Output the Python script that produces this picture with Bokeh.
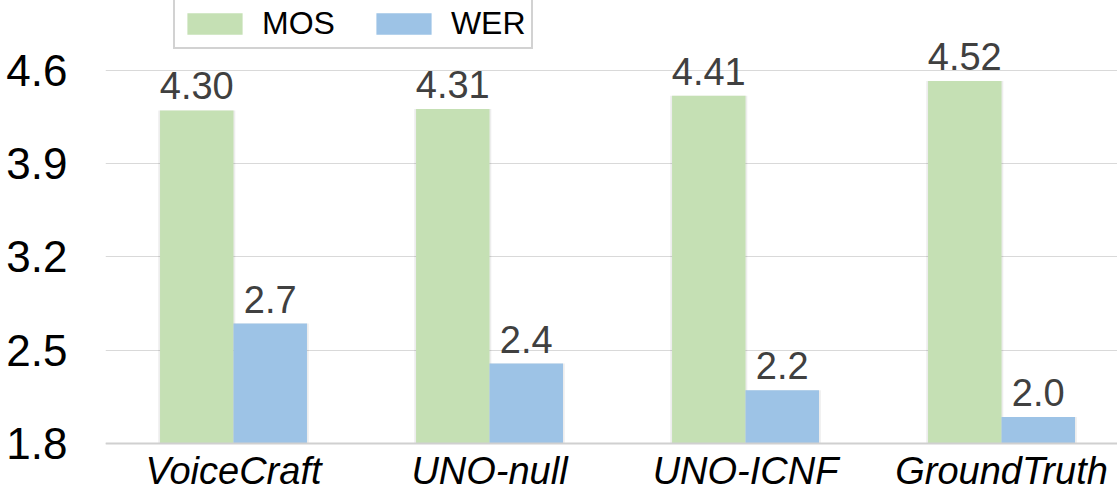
from bokeh.plotting import figure
from bokeh.models import ColumnDataSource, Range1d, FixedTicker, Legend, LegendItem, LabelSet, Span
from bokeh.core.properties import value
from bokeh.embed import file_html
from bokeh.resources import INLINE

categories = ["VoiceCraft", "UNO-null", "UNO-ICNF", "GroundTruth"]
mos = [4.30, 4.31, 4.41, 4.52]
wer = [2.7, 2.4, 2.2, 2.0]
mos_labels = ["4.30", "4.31", "4.41", "4.52"]
wer_labels = ["2.7", "2.4", "2.2", "2.0"]
y_ticks = [1.8, 2.5, 3.2, 3.9, 4.6]
baseline = 1.8

FONT = "Liberation Sans"
idx = list(range(len(categories)))
bar_w = 0.287
off = 0.1435

src_m = ColumnDataSource(dict(x=[i - off for i in idx], top=mos, lab=mos_labels))
src_w = ColumnDataSource(dict(x=[i + off for i in idx], top=wer, lab=wer_labels))
src_c = ColumnDataSource(dict(x=idx, y=[baseline] * len(idx), lab=categories))

# frame spans the full height; the area below the baseline holds the category labels
p = figure(width=1117, height=492, output_backend="svg", toolbar_location=None,
           x_range=Range1d(-0.5, 3.453), y_range=Range1d(1.4325, 5.125),
           x_axis_location=None,
           min_border_left=105, min_border_right=0, min_border_top=0, min_border_bottom=0)
p.outline_line_color = None
p.background_fill_color = "white"
p.border_fill_color = "white"

# soft shadows
for src in (src_m, src_w):
    p.vbar(x="x", top="top", bottom=baseline, width=bar_w + 0.014, source=src,
           fill_color="#000000", fill_alpha=0.07, line_color=None)

r1 = p.vbar(x="x", top="top", bottom=baseline, width=bar_w, source=src_m,
            fill_color="#c5e0b4", line_color=None)
r2 = p.vbar(x="x", top="top", bottom=baseline, width=bar_w, source=src_w,
            fill_color="#9dc3e6", line_color=None)

# category axis baseline
p.add_layout(Span(location=baseline, dimension="width", line_color="#d0d0d0", line_width=2))

for src in (src_m, src_w):
    p.add_layout(LabelSet(x="x", y="top", text="lab", source=src, text_align="center",
                          text_baseline="bottom", y_offset=11,
                          text_font=value(FONT), text_font_size="38px", text_color="#404040"))

# category labels
p.add_layout(LabelSet(x="x", y="y", text="lab", source=src_c, text_align="center",
                      text_baseline="top", y_offset=-6,
                      text_font=value(FONT), text_font_style="italic", text_font_size="38px",
                      text_color="#000000"))

# y axis
p.yaxis.ticker = FixedTicker(ticks=y_ticks)
p.yaxis.axis_line_color = None
p.yaxis.major_tick_line_color = None
p.yaxis.minor_tick_line_color = None
p.yaxis.major_tick_out = 0
p.yaxis.major_label_standoff = 38
p.yaxis.major_label_text_font = FONT
p.yaxis.major_label_text_font_size = "44px"
p.yaxis.major_label_text_color = "#000000"

p.xgrid.grid_line_color = None
p.ygrid.grid_line_color = "#d9d9d9"
p.ygrid.grid_line_width = 1

legend = Legend(items=[LegendItem(label="MOS", renderers=[r1]),
                       LegendItem(label="WER", renderers=[r2])],
                orientation="horizontal", location=(68, 443),
                glyph_width=69, glyph_height=27, label_standoff=13, spacing=34,
                padding=5, margin=0,
                label_text_font=FONT, label_text_font_size="32px", label_text_color="#000000",
                border_line_color="#a6a6a6", border_line_width=2,
                background_fill_color="white", background_fill_alpha=1)
p.add_layout(legend)

open("out.html", "w").write(file_html(p, INLINE))
